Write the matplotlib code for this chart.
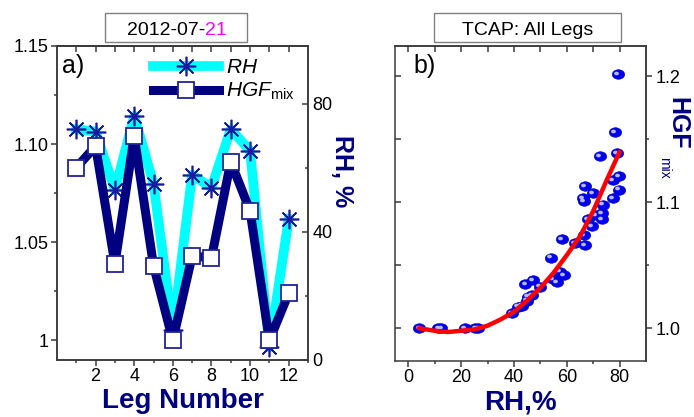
import matplotlib
matplotlib.use('Agg')
import matplotlib.pyplot as plt
from matplotlib.lines import Line2D
from matplotlib.patches import Rectangle
from matplotlib.path import Path
from matplotlib.transforms import Affine2D, offset_copy

plt.rcParams['font.family'] = ['Liberation Sans', 'DejaVu Sans']
plt.rcParams['mathtext.fontset'] = 'custom'
plt.rcParams['mathtext.rm'] = 'Liberation Sans'
plt.rcParams['mathtext.it'] = 'Liberation Sans:italic'
plt.rcParams['mathtext.bf'] = 'Liberation Sans:bold'

# panel a) : one flight day, per leg
leg = [1, 2, 3, 4, 5, 6, 7, 8, 9, 10, 11, 12]
rh_leg = [72, 71.3, 53, 76.2, 55, 9.5, 57.8, 53.8, 72, 65.3, 4, 44]
hgf_leg = [1.088, 1.099, 1.039, 1.104, 1.038, 1.000, 1.043, 1.042, 1.091, 1.066, 1.000, 1.024]

# panel b) : all legs of the campaign
rh_all = [4.2, 11.3, 12.5, 21.3, 25.3, 26.5, 39.2, 41.5, 43.0, 44.9, 45.3, 46.8,
          44.2, 47.2, 49.8, 54.7, 56.2, 57.4, 58.9, 54.0, 58.1, 63.0, 66.8, 66.4,
          69.4, 67.9, 73.2, 70.9, 73.2, 73.6, 66.4, 77.4, 66.0, 69.8, 66.8, 79.6,
          77.4, 79.6, 72.5, 78.9, 78.1, 79.2]
hgf_all = [1.000, 1.000, 1.000, 1.000, 1.000, 1.000, 1.012, 1.017, 1.018, 1.022, 1.025, 1.026,
           1.035, 1.038, 1.033, 1.039, 1.0365, 1.045, 1.042, 1.056, 1.0706, 1.0675, 1.066, 1.0738,
           1.081, 1.0865, 1.0865, 1.0897, 1.0913, 1.098, 1.1008, 1.103, 1.103, 1.107, 1.1127, 1.110,
           1.1175, 1.1206, 1.1365, 1.139, 1.1556, 1.2016]
# red fit curve
fit_rh = [4, 10, 15, 20, 25, 30, 35, 40, 45, 50, 55, 60, 65, 70, 75, 80]
fit_hgf = [1.000, 0.998, 0.997, 0.998, 0.999, 1.002, 1.007, 1.013, 1.022, 1.032, 1.044,
           1.058, 1.073, 1.093, 1.117, 1.140]

hgf_ticks = [1.0, 1.05, 1.10, 1.15]
hgf_labels = ['1', '1.05', '1.10', '1.15']

navy = '#000080'
spine_col = '#3a3a3a'

fig = plt.figure(figsize=(6.94, 4.17), dpi=100)


def style_spines(ax):
    for s in ax.spines.values():
        s.set_color(spine_col)
        s.set_linewidth(1.1)


# ---------------- panel a)
ax1 = fig.add_axes([0.0821, 0.1367, 0.3617, 0.753])
ax1r = ax1.twinx()
ax1.set_zorder(ax1r.get_zorder() + 1)
ax1.patch.set_visible(False)

ax1r.plot(leg, rh_leg, color='#00ffff', lw=7, solid_joinstyle='round', zorder=2)
ax1r.plot(leg, rh_leg, ls='none', marker=(8, 2, 0), ms=14, mew=1.2, color='#1a1aa0', zorder=3)
ax1.plot(leg, hgf_leg, color=navy, lw=6.5, solid_joinstyle='round', zorder=2)
ax1.plot(leg, hgf_leg, ls='none', marker='s', ms=11, mfc='white', mec='#22229a', mew=1.3, zorder=3)

ax1.set_xlim(0, 13)
ax1.set_ylim(0.99, 1.15)
ax1r.set_ylim(0, 98)
ax1.set_xticks([2, 4, 6, 8, 10, 12])
ax1.set_xticks([1, 3, 5, 7, 9, 11, 13], minor=True)
ax1.set_yticks(hgf_ticks, labels=hgf_labels)
ax1.set_yticks([1.025, 1.075, 1.125], minor=True)
ax1r.set_yticks([0, 40, 80])
ax1r.set_yticks([20, 60], minor=True)
ax1.tick_params(axis='both', which='major', direction='out', length=4, width=1.1,
                labelsize=13, pad=2, color=spine_col)
ax1.tick_params(axis='both', which='minor', direction='out', length=2.5, width=1.1, color=spine_col)
ax1r.tick_params(axis='y', which='major', direction='in', length=4, width=1.1,
                 labelsize=13, pad=3, color=spine_col)
ax1r.tick_params(axis='y', which='minor', direction='in', length=2.5, width=1.1, color=spine_col)
top1 = ax1.secondary_xaxis('top')
top1.set_xticks(leg, labels=[])
top1.tick_params(direction='in', length=4, width=1.1, color=spine_col)
for a in (ax1, ax1r, top1):
    style_spines(a)

ax1.set_xlabel('Leg Number', fontsize=20, fontweight='bold', color=navy, labelpad=2)
fig.text(0.493, 0.59, 'RH, %', fontsize=18, fontweight='bold', color=navy,
         rotation=270, ha='center', va='center')
ax1.text(0.02, 0.975, 'a)', transform=ax1.transAxes, fontsize=18, va='top', ha='left')

handles = [Line2D([], [], color='#00ffff', lw=7, marker=(8, 2, 0), ms=14, mew=1.2,
                  mec='#1a1aa0', mfc='#1a1aa0'),
           Line2D([], [], color=navy, lw=6.5, marker='s', ms=11, mfc='white',
                  mec='#22229a', mew=1.3)]
ax1.legend(handles, [r'$RH$', r'$HGF_{\mathrm{mix}}$'], loc='upper left',
           bbox_to_anchor=(0.34, 0.995), frameon=False, fontsize=15, handlelength=3.2,
           handletextpad=0.3, borderpad=0, labelspacing=0.2)

# ---------------- panel b)
ax2 = fig.add_axes([0.5692, 0.1343, 0.3617, 0.7554])
ellipse = Path.unit_circle().transformed(Affine2D().scale(1.3, 1.0))
ax2.scatter(rh_all, hgf_all, s=80, marker=ellipse, color='#0000f0', edgecolors='#0000b0',
            linewidths=0.4, zorder=2)
hl = offset_copy(ax2.transData, fig=fig, x=-1.5, y=1.5, units='dots')
ax2.scatter(rh_all, hgf_all, s=12, marker=ellipse, color='#b8b8ff', linewidths=0,
            transform=hl, zorder=3)
ax2.plot(fit_rh, fit_hgf, color='#ff0000', lw=3.2, solid_capstyle='round', zorder=4)

ax2.set_xlim(-5, 90)
ax2.set_ylim(0.974, 1.224)
ax2.set_xticks([0, 20, 40, 60, 80])
ax2.set_xticks([10, 30, 50, 70], minor=True)
ax2.set_yticks([1.0, 1.05, 1.1, 1.15, 1.2], labels=[])
ax2.tick_params(axis='x', which='major', direction='out', length=4, width=1.1,
                labelsize=13, pad=2, color=spine_col)
ax2.tick_params(axis='x', which='minor', direction='out', length=2.5, width=1.1, color=spine_col)
ax2.tick_params(axis='y', direction='in', length=4, width=1.1, color=spine_col)
top2 = ax2.secondary_xaxis('top')
top2.set_xticks([0, 10, 20, 30, 40, 50, 60, 70, 80], labels=[])
top2.tick_params(direction='in', length=4, width=1.1, color=spine_col)
right2 = ax2.secondary_yaxis('right')
right2.set_yticks([1.0, 1.1, 1.2], labels=['1.0', '1.1', '1.2'])
right2.set_yticks([1.05, 1.15], minor=True)
right2.tick_params(which='major', direction='out', length=4, width=1.1, labelsize=13,
                   pad=3, color=spine_col)
right2.tick_params(which='minor', direction='out', length=2.5, width=1.1, color=spine_col)
for a in (ax2, top2, right2):
    style_spines(a)

ax2.set_xlabel('RH,%', fontsize=20, fontweight='bold', color=navy, labelpad=2)
fig.text(0.976, 0.705, 'HGF', fontsize=18, fontweight='bold', color=navy,
         rotation=270, ha='center', va='center')
fig.text(0.957, 0.597, 'mix', fontsize=10, color=navy,
         rotation=270, ha='center', va='center')
ax2.text(0.075, 0.975, 'b)', transform=ax2.transAxes, fontsize=18, va='top', ha='left')

# ---------------- title boxes
fig.patches.append(Rectangle((0.1513, 0.8993), 0.2046, 0.0695, transform=fig.transFigure,
                             fill=False, edgecolor='#808080', lw=1))
fig.patches.append(Rectangle((0.6254, 0.8993), 0.2695, 0.0695, transform=fig.transFigure,
                             fill=False, edgecolor='#808080', lw=1))
t1 = fig.text(0.1823, 0.916, '2012-07-', fontsize=14, ha='left', va='baseline')
fig.canvas.draw()
bb = t1.get_window_extent()
fig.text(bb.x1 / fig.bbox.width, bb.y0 / fig.bbox.height, '21', fontsize=14,
         color='#ff00ff', ha='left', va='bottom')
fig.text(0.760, 0.916, 'TCAP: All Legs', fontsize=14, ha='center', va='baseline')

fig.savefig('out.png', dpi=100)
